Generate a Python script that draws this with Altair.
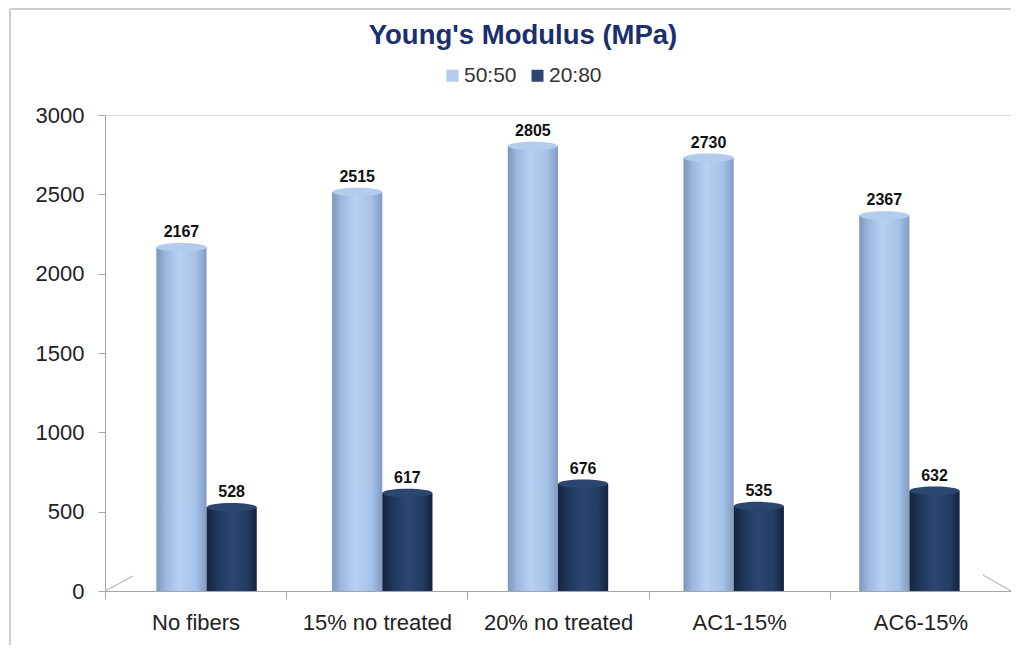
import altair as alt
import pandas as pd

categories = ["No fibers", "15% no treated", "20% no treated", "AC1-15%", "AC6-15%"]
series = ["50:50", "20:80"]
values_5050 = [2167, 2515, 2805, 2730, 2367]
values_2080 = [528, 617, 676, 535, 632]
y_ticks = [0, 500, 1000, 1500, 2000, 2500, 3000]
series_colors = ["#B3CCEE", "#2C466F"]

rows = []
for c, v in zip(categories, values_5050):
    rows.append({"cat": c, "series": "50:50", "value": v})
for c, v in zip(categories, values_2080):
    rows.append({"cat": c, "series": "20:80", "value": v})
df = pd.DataFrame(rows)
cat_df = pd.DataFrame({"cat": categories})
deco = pd.DataFrame({"k": [0]})

W, H = 906, 476
FONT = "Liberation Sans"

def x_bars():
    return alt.X("cat:N", sort=categories,
                 scale=alt.Scale(domain=categories, paddingInner=0, paddingOuter=0.078),
                 axis=None)

def x_off():
    return alt.XOffset("series:N", sort=series,
                       scale=alt.Scale(domain=series, paddingInner=0, paddingOuter=0.75))

def y_enc():
    ax = alt.Axis(values=y_ticks, format="d", title=None, grid=False, domainColor="#A6A6A6",
                  tickColor="#A6A6A6", tickSize=7, labelPadding=14,
                  labelFont=FONT, labelFontSize=22, labelColor="#222222")
    return alt.Y("value:Q", scale=alt.Scale(domain=[0, 3000], nice=False, zero=True), axis=ax)

light_grad = alt.Gradient(gradient="linear", x1=0, x2=1, y1=0, y2=0, stops=[
    alt.GradientStop(color="#7C97BD", offset=0),
    alt.GradientStop(color="#9AB7DF", offset=0.18),
    alt.GradientStop(color="#B6D1F3", offset=0.45),
    alt.GradientStop(color="#A5C2E8", offset=0.78),
    alt.GradientStop(color="#7F9BC2", offset=1),
])
dark_grad = alt.Gradient(gradient="linear", x1=0, x2=1, y1=0, y2=0, stops=[
    alt.GradientStop(color="#13243F", offset=0),
    alt.GradientStop(color="#1F375C", offset=0.2),
    alt.GradientStop(color="#2B4670", offset=0.5),
    alt.GradientStop(color="#233D63", offset=0.8),
    alt.GradientStop(color="#122240", offset=1),
])

base = alt.Chart(df)

bars_light = base.transform_filter(alt.datum.series == "50:50").mark_bar(
    color=light_grad, strokeWidth=0).encode(x=x_bars(), xOffset=x_off(), y=y_enc())
bars_dark = base.transform_filter(alt.datum.series == "20:80").mark_bar(
    color=dark_grad, strokeWidth=0).encode(x=x_bars(), xOffset=x_off(), y=y_enc())

ellipse_path = "M-1,0A1,0.17,0,1,0,1,0A1,0.17,0,1,0,-1,0Z"
tops = base.mark_point(shape=ellipse_path, filled=True, opacity=1, size=2500, strokeWidth=0).encode(
    x=x_bars(), xOffset=x_off(), y=y_enc(),
    color=alt.Color("series:N", sort=series,
                    scale=alt.Scale(domain=series, range=series_colors),
                    legend=alt.Legend(title=None, orient="none", direction="horizontal",
                                      legendX=337, legendY=-50, symbolType="square",
                                      symbolSize=144, symbolStrokeWidth=0,
                                      labelFont=FONT, labelFontSize=21, labelColor="#333333",
                                      labelOffset=1, columnPadding=10)))

labels = base.mark_text(dy=-15, font=FONT, fontSize=16, fontWeight="bold", color="#111111",
                        baseline="middle").encode(
    x=x_bars(), xOffset=x_off(), y=y_enc(), text=alt.Text("value:Q", format="d"))

x_axis_layer = alt.Chart(cat_df).mark_point(opacity=0).encode(
    x=alt.X("cat:N", sort=categories,
            scale=alt.Scale(domain=categories, paddingInner=0, paddingOuter=0),
            axis=alt.Axis(title=None, tickBand="extent", labelAngle=0, domainColor="#A6A6A6",
                          tickColor="#A6A6A6", tickSize=8, labelPadding=13, grid=False,
                          labelFont=FONT, labelFontSize=22, labelColor="#222222")),
    y=alt.value(H))

frame_left = alt.Chart(deco).mark_rule(color="#CFCFCF", strokeWidth=2).encode(
    x=alt.value(-95), x2=alt.value(-95), y=alt.value(-106), y2=alt.value(540))
frame_top = alt.Chart(deco).mark_rule(color="#CFCFCF", strokeWidth=2).encode(
    x=alt.value(-95), x2=alt.value(920), y=alt.value(-106), y2=alt.value(-106))
diag_left = alt.Chart(deco).mark_rule(color="#A6A6A6", strokeWidth=1).encode(
    x=alt.value(0), y=alt.value(H), x2=alt.value(28), y2=alt.value(H - 15))
diag_right = alt.Chart(deco).mark_rule(color="#A6A6A6", strokeWidth=1).encode(
    x=alt.value(878), y=alt.value(H - 16), x2=alt.value(906), y2=alt.value(H))

chart = alt.layer(
    frame_left, frame_top, diag_left, diag_right, x_axis_layer,
    bars_light, bars_dark, tops, labels
).resolve_scale(x="independent").properties(
    width=W, height=H,
    title=alt.TitleParams("Young's Modulus (MPa)", font=FONT, fontSize=27.5, fontWeight="bold",
                          color="#1B2F6E", anchor="middle", dx=-35, dy=55, offset=14),
    autosize=alt.AutoSizeParams(type="none"),
    padding={"left": 97, "top": 107, "right": 0, "bottom": 54},
).configure_view(stroke=None).configure(background="white")

chart.save("out.html", embed_options={"renderer": "svg", "actions": False})
